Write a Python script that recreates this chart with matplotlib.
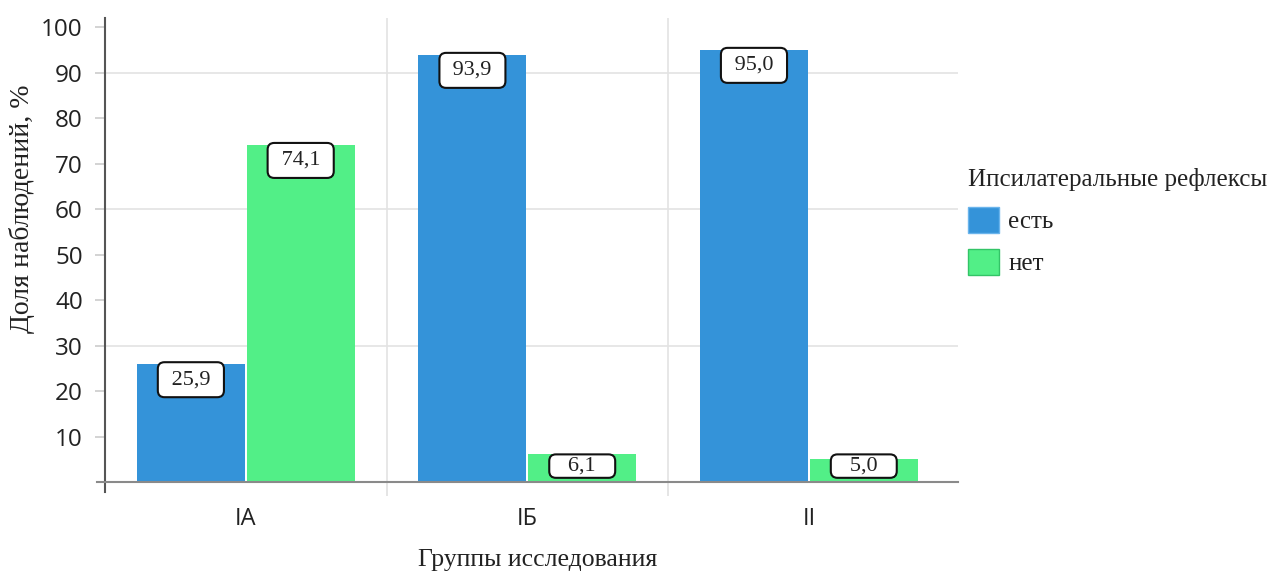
import numpy as np
import matplotlib.pyplot as plt

# groups and shares (%) of ipsilateral reflexes
groups = ['IA', 'IБ', 'II']
yes_vals = [25.9, 93.9, 95.0]
no_vals = [74.1, 6.1, 5.0]
series_names = ['есть', 'нет']
legend_title = 'Ипсилатеральные рефлексы'

blue = '#3493d9'
green = '#52ef87'
serif = ['Liberation Serif', 'DejaVu Serif']
sans = ['Open Sans', 'DejaVu Sans']

fig = plt.figure(figsize=(12.79, 5.72), dpi=100)
ax = fig.add_axes([0.0821, 0.1573, 0.667, 0.8112])

x = np.arange(len(groups))
w = 0.384
off = 0.195
b1 = ax.bar(x - off, yes_vals, w, color=blue, label=series_names[0], zorder=2)
b2 = ax.bar(x + off, no_vals, w, color=green, label=series_names[1], zorder=2)

ax.set_xlim(-0.5, 2.53)
ax.set_ylim(0, 102)

# light horizontal guides
for yv in [30, 60, 90]:
    ax.axhline(yv, color='#e3e3e3', lw=1.2, zorder=0)

# category separators as major x ticks, names as minor ticks
ax.set_xticks([0.5, 1.5])
ax.set_xticklabels([])
ax.tick_params(axis='x', which='major', length=10, color='#e0e0e0', width=1.2)
ax.xaxis.grid(True, which='major', color='#e3e3e3', lw=1.2, zorder=0)
ax.set_xticks(x, minor=True)
ax.set_xticklabels(groups, minor=True, fontsize=17, family=sans, color='#222')
ax.tick_params(axis='x', which='minor', length=0, pad=18)

ax.set_yticks(np.arange(10, 101, 10))
ax.set_yticklabels([str(v) for v in range(10, 101, 10)], fontsize=17.5, family=sans, color='#222')
ax.tick_params(axis='y', length=7, color='#cccccc', width=1.2, pad=9)

for s in ['top', 'right']:
    ax.spines[s].set_visible(False)
ax.spines['left'].set_color('#555555')
ax.spines['left'].set_linewidth(1.5)
ax.spines['left'].set_bounds(-2.3, 102)
ax.spines['bottom'].set_color('#8a8a8a')
ax.spines['bottom'].set_linewidth(1.5)
ax.spines['bottom'].set_bounds(-0.53, 2.53)

ax.set_xlabel('Группы исследования', fontsize=18.5, family=serif, color='#222')
ax.xaxis.set_label_coords(0.507, -0.145)
ax.set_ylabel('Доля наблюдений, %', fontsize=20, family=serif, color='#222')
ax.yaxis.set_label_coords(-0.082, 0.59)

# value labels in rounded boxes just under each bar top;
# boxes on short bars are squeezed so they stay above the axis
px_per_unit = ax.get_window_extent().height / 102
for bars, vals in [(b1, yes_vals), (b2, no_vals)]:
    for r, v in zip(bars, vals):
        txt = f'{v:.1f}'.replace('.', ',')
        y_c = v - 15.5 / px_per_unit
        pad = 0.36
        if y_c < 4.5:
            y_c = 3.5
            pad = 0.1
            txt = '   ' + txt + '   '
        else:
            txt = ' ' + txt + ' '
        ax.text(r.get_x() + r.get_width() / 2, y_c, txt,
                ha='center', va='center', fontsize=16, family=serif, color='#222',
                bbox=dict(boxstyle=f'round,pad={pad},rounding_size=0.3',
                          fc='white', ec='#111', lw=1.5), zorder=5)

leg = ax.legend(loc='upper left', bbox_to_anchor=(0.757, 0.706), bbox_transform=fig.transFigure,
                frameon=False, title=legend_title, alignment='left',
                prop={'family': serif, 'size': 18}, handlelength=1.25, handleheight=1.25,
                handletextpad=0.35, labelspacing=0.62, borderaxespad=0, borderpad=0)
leg.get_title().set_fontsize(18)
leg.get_title().set_family(serif)
leg.get_title().set_color('#222')
for t in leg.get_texts():
    t.set_color('#222')
leg.legend_handles[0].set_edgecolor('#6ab4ec')
leg.legend_handles[1].set_edgecolor('#33c467')

fig.savefig('out.png', dpi=100)
